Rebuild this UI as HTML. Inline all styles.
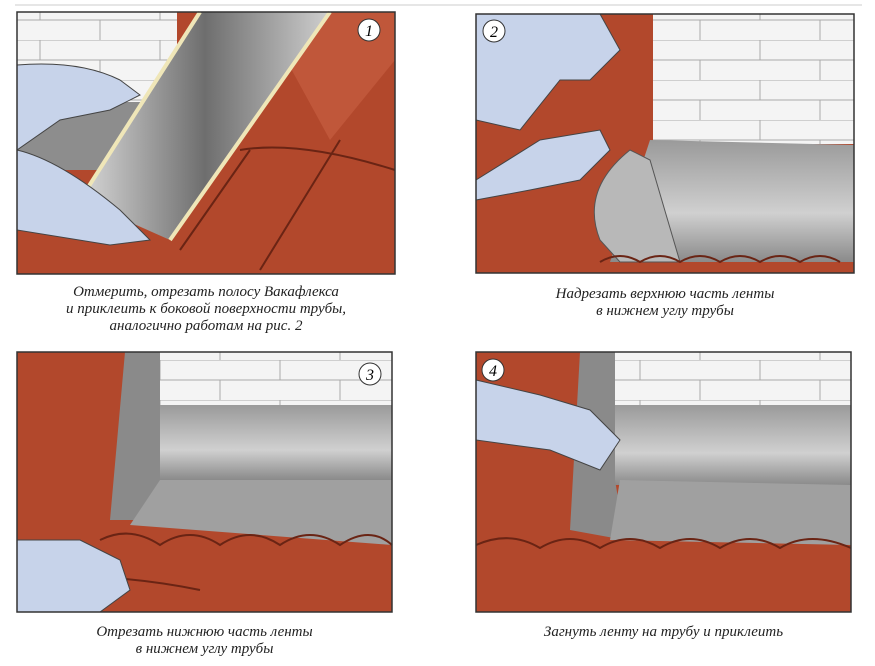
<!DOCTYPE html>
<html><head><meta charset="utf-8"><style>
body{margin:0;background:#fff;width:875px;height:666px;overflow:hidden}
.cap{position:absolute;font-family:"Liberation Serif",serif;font-style:italic;font-size:15px;color:#222;text-align:center;line-height:17px}
</style></head><body>
<svg width="875" height="666" style="position:absolute;left:0;top:0">
<defs>
<linearGradient id="m1" x1="0" y1="0" x2="1" y2="0"><stop offset="0" stop-color="#d8d8d8"/><stop offset=".5" stop-color="#6e6e6e"/><stop offset="1" stop-color="#cfcfcf"/></linearGradient>
<linearGradient id="m2" x1="0" y1="0" x2="0" y2="1"><stop offset="0" stop-color="#9a9a9a"/><stop offset=".6" stop-color="#d0d0d0"/><stop offset="1" stop-color="#8a8a8a"/></linearGradient>
<pattern id="br" width="120" height="40" patternUnits="userSpaceOnUse"><rect width="120" height="40" fill="#f4f4f4"/><path d="M0 0H120M0 20H120M40 0V20M100 20V40" stroke="#aaa" fill="none"/></pattern>
</defs>
<line x1="15" y1="5" x2="862" y2="5" stroke="#ccc"/>
<g>
<rect x="17" y="12" width="378" height="262" fill="#b2482c"/>
<rect x="17" y="12" width="160" height="90" fill="url(#br)"/>
<polygon points="17,102 160,102 120,170 17,170" fill="#8d8d8d"/>
<path d="M260 12 L395 12 L395 60 L330 140 Z" fill="#c0573a"/>
<path d="M240 150 Q300 140 395 170 M180 250 L250 150 M260 270 L340 140" stroke="#6a2414" stroke-width="2" fill="none"/>
<polygon points="200,12 330,12 170,240 80,200" fill="url(#m1)"/>
<path d="M200 12 L80 200 M330 12 L170 240" stroke="#efe6b8" stroke-width="4"/>
<path d="M17 65 Q80 60 120 80 L140 95 L110 110 L60 120 L17 150 Z" fill="#c7d3ea" stroke="#444"/>
<path d="M17 150 Q60 160 120 210 L150 240 L110 245 L17 230 Z" fill="#c7d3ea" stroke="#444"/>
<circle cx="369" cy="30" r="11" fill="#fff" stroke="#333"/><text x="369" y="36" font-family="Liberation Serif" font-style="italic" font-size="16" text-anchor="middle">1</text>
<rect x="17" y="12" width="378" height="262" fill="none" stroke="#333" stroke-width="1.5"/>
</g>
<g>
<rect x="476" y="14" width="378" height="259" fill="#b2482c"/>
<rect x="653" y="14" width="201" height="130" fill="url(#br)"/>
<polygon points="650,140 854,145 854,262 610,262" fill="url(#m2)"/>
<path d="M630 150 Q580 190 600 240 L620 262 L680 262 L650 160 Z" fill="#b8b8b8" stroke="#555"/>
<path d="M476 14 L600 14 L620 50 L590 80 L560 80 L520 130 L476 120 Z" fill="#c7d3ea" stroke="#444"/>
<path d="M476 180 L540 140 L600 130 L610 150 L580 180 L530 190 L476 200 Z" fill="#c7d3ea" stroke="#444"/>
<path d="M600 262 Q620 250 640 262 Q660 250 680 262 Q700 250 720 262 Q740 250 760 262 Q780 250 800 262 Q820 250 840 262" stroke="#6a2414" stroke-width="2" fill="none"/>
<circle cx="494" cy="31" r="11" fill="#fff" stroke="#333"/><text x="494" y="37" font-family="Liberation Serif" font-style="italic" font-size="16" text-anchor="middle">2</text>
<rect x="476" y="14" width="378" height="259" fill="none" stroke="#333" stroke-width="1.5"/>
</g>
<g>
<rect x="17" y="352" width="375" height="260" fill="#b2482c"/>
<rect x="160" y="352" width="232" height="60" fill="url(#br)"/>
<polygon points="150,405 392,405 392,480 150,480" fill="url(#m2)"/>
<polygon points="125,352 160,352 160,480 215,480 200,520 110,520" fill="#8a8a8a"/>
<polygon points="160,480 392,480 392,545 130,525" fill="#a0a0a0"/>
<path d="M100 540 Q130 525 160 545 Q190 525 220 545 Q250 525 280 545 Q310 525 340 545 Q370 525 392 545 M17 580 Q100 570 200 590" stroke="#6a2414" stroke-width="2" fill="none"/>
<path d="M17 540 L80 540 L120 560 L130 590 L100 612 L17 612 Z" fill="#c7d3ea" stroke="#444"/>
<circle cx="370" cy="374" r="11" fill="#fff" stroke="#333"/><text x="370" y="380" font-family="Liberation Serif" font-style="italic" font-size="16" text-anchor="middle">3</text>
<rect x="17" y="352" width="375" height="260" fill="none" stroke="#333" stroke-width="1.5"/>
</g>
<g>
<rect x="476" y="352" width="375" height="260" fill="#b2482c"/>
<rect x="615" y="352" width="236" height="55" fill="url(#br)"/>
<polygon points="600,405 851,405 851,485 600,485" fill="url(#m2)"/>
<polygon points="580,352 615,352 615,480 625,540 570,530" fill="#8a8a8a"/>
<polygon points="620,480 851,485 851,545 610,540" fill="#a0a0a0"/>
<path d="M476 545 Q510 530 540 548 Q570 530 600 548 Q630 530 660 548 Q690 530 720 548 Q750 530 780 548 Q810 530 851 548" stroke="#6a2414" stroke-width="2" fill="none"/>
<path d="M476 380 L540 395 L590 410 L620 440 L600 470 L550 450 L476 440 Z" fill="#c7d3ea" stroke="#444"/>
<circle cx="493" cy="370" r="11" fill="#fff" stroke="#333"/><text x="493" y="376" font-family="Liberation Serif" font-style="italic" font-size="16" text-anchor="middle">4</text>
<rect x="476" y="352" width="375" height="260" fill="none" stroke="#333" stroke-width="1.5"/>
</g>
</svg>
<div class="cap" style="left:17px;top:284px;width:378px">Отмерить, отрезать полосу Вакафлекса<br>и приклеить к боковой поверхности трубы,<br>аналогично работам на рис. 2</div>
<div class="cap" style="left:476px;top:286px;width:378px">Надрезать верхнюю часть ленты<br>в нижнем углу трубы</div>
<div class="cap" style="left:17px;top:624px;width:375px">Отрезать нижнюю часть ленты<br>в нижнем углу трубы</div>
<div class="cap" style="left:476px;top:624px;width:375px">Загнуть ленту на трубу и приклеить</div>
</body></html>
